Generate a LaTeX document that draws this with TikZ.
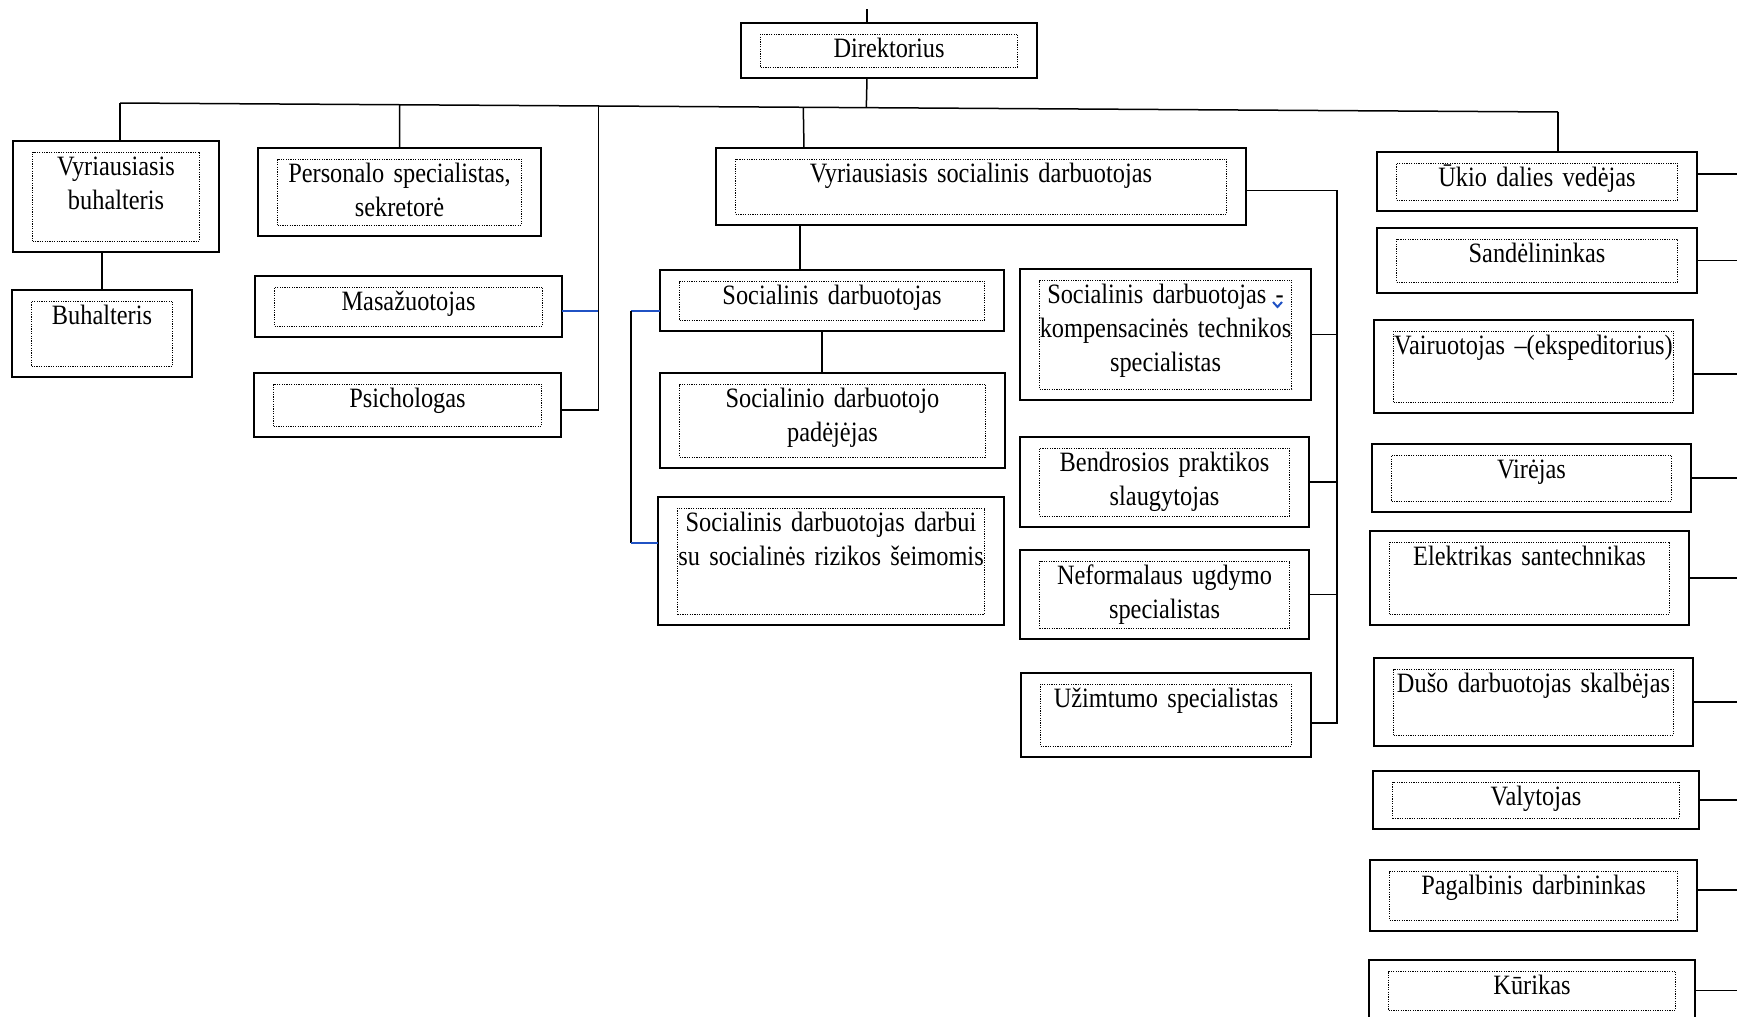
\documentclass[tikz,border=0pt]{standalone}
\usepackage{fontspec}
\setmainfont[FakeStretch=0.87]{Liberation Serif}
\usetikzlibrary{calc}
\definecolor{ryselinija}{RGB}{32,82,196}

\begin{document}
\begin{tikzpicture}[x=1pt, y=-1pt, line width=1.5pt,
        font=\fontsize{28}{34}\selectfont,
        pareigos/.style={draw, line width=1pt, dash pattern=on 1.2pt off 1.2pt, anchor=north,
            outer xsep=19.5pt, outer ysep=11pt, inner xsep=0pt, inner ysep=3pt,
            align=center, text height=20pt,
            append after command={\pgfextra{\draw[solid, line width=1.5pt]
                (\tikzlastnode.north west) rectangle (\tikzlastnode.south east);}}},
        melyna/.style={draw=ryselinija}]
        \path[use as bounding box, clip] (0,0) rectangle (1737,1017);
        % Vadovas
        \node[pareigos, text width=257, text depth=7] (dir) at (889,23) {Direktorius};
        % Kairiosios pareigos
        \node[pareigos, text width=167, text depth=63] (vbuh) at (116,141) {Vyriausiasis\\buhalteris};
        \node[pareigos, text width=141, text depth=39] (buh) at (102,290) {Buhalteris};
        \node[pareigos, text width=244, text depth=40] (pers) at (399.5,148) {Personalo specialistas,\\sekretorė};
        \node[pareigos, text width=268, text depth=13] (mas) at (408.5,276) {Masažuotojas};
        \node[pareigos, text width=268, text depth=16] (psi) at (407.5,373) {Psichologas};
        % Socialinis skyrius
        \node[pareigos, text width=491, text depth=29] (vsd) at (981,148) {Vyriausiasis socialinis darbuotojas};
        \node[pareigos, text width=305, text depth=13] (sd) at (832,270) {Socialinis darbuotojas};
        \node[pareigos, text width=306, text depth=47] (sdp) at (832.5,373) {Socialinio darbuotojo\\padėjėjas};
        \node[pareigos, text width=307, text depth=80] (sdrs) at (831,497) {Socialinis darbuotojas darbui\\su socialinės rizikos šeimomis};
        \node[pareigos, text width=252, text depth=83] (komp) at (1165.5,269)
            {Socialinis darbuotojas -\\kompensacinės technikos\\specialistas};
        \node[pareigos, text width=250, text depth=42] (bend) at (1164.5,437) {Bendrosios praktikos\\slaugytojas};
        \node[pareigos, text width=250, text depth=41] (nef) at (1164.5,550) {Neformalaus ugdymo\\specialistas};
        \node[pareigos, text width=251, text depth=36] (uz) at (1166,673) {Užimtumo specialistas};
        % Ukio dalis
        \node[pareigos, text width=281, text depth=11] (uk) at (1537,152) {Ūkio dalies vedėjas};
        \node[pareigos, text width=281, text depth=17] (san) at (1537,228) {Sandėlininkas};
        \node[pareigos, text width=280, text depth=45] (vair) at (1533.5,320) {Vairuotojas –(ekspeditorius)};
        \node[pareigos, text width=280, text depth=20] (vir) at (1531.5,444) {Virėjas};
        \node[pareigos, text width=280, text depth=46] (el) at (1529.5,531) {Elektrikas santechnikas};
        \node[pareigos, text width=280, text depth=40] (dus) at (1533.5,658) {Dušo darbuotojas skalbėjas};
        \node[pareigos, text width=287, text depth=10] (val) at (1536,771) {Valytojas};
        \node[pareigos, text width=288, text depth=23] (pag) at (1533.5,860) {Pagalbinis darbininkas};
        \node[pareigos, text width=287, text depth=13] (kur) at (1532,960) {Kūrikas};
        % Mazas melynas zenklas
        \draw[melyna, line width=2pt] (1273,302) -- (1277.5,307) -- (1282,302);
        % Pagalbiniai taskai
        \coordinate (top) at (867,9);
        \coordinate (busL) at (120,103);
        \coordinate (busR) at (1558,112);
        \coordinate (pv) at (599,0);
        \coordinate (lv) at (631,0);
        \coordinate (vsdv) at (804,0);
        \coordinate (mv) at (1337,0);
        \coordinate (redge) at (1737,0);
        % Pagrindine linija
        \draw (top) -- (top |- dir.north);
        \draw (top |- dir.south) -- ($(busL)!(top)!(busR)$);
        \draw (busL) -- (busR);
        \draw (busL) -- (busL |- vbuh.north);
        \draw (buh.north) -- (buh.north |- vbuh.south);
        \draw (pers.north) -- ($(busL)!(pers.north)!(busR)$);
        \draw (vsdv |- vsd.north) -- ($(busL)!(vsdv)!(busR)$);
        \draw (busR) -- (busR |- uk.north);
        % Masazuotojas ir psichologas
        \draw[melyna] ([yshift=-4.5]mas.east) -- ([yshift=-4.5]mas.east -| pv);
        \draw ([yshift=-5]psi.east) -| ($(busL)!(pv)!(busR)$);
        % Socialiniai darbuotojai
        \draw ([xshift=-32]sd.north) -- ([xshift=-32]sd.north |- vsd.south);
        \draw ([xshift=-10]sd.south) -- ([xshift=-10]sd.south |- sdp.north);
        \draw[melyna] ([yshift=-10.5]sd.west) -- ([yshift=-10.5]sd.west -| lv);
        \draw ([yshift=-10.5]sd.west -| lv) -- ([yshift=18]sdrs.west -| lv);
        \draw[melyna] ([yshift=18]sdrs.west -| lv) -- ([yshift=18]sdrs.west);
        \draw ([yshift=-4]vsd.east) -| ([yshift=-8]uz.east -| mv) -- ([yshift=-8]uz.east);
        \draw (komp.east) -- (komp.east -| mv);
        \draw (bend.east) -- (bend.east -| mv);
        \draw (nef.east) -- (nef.east -| mv);
        % Ukio dalies jungtys
        \draw ([yshift=7.5]uk.east) -- ([yshift=7.5]uk.east -| redge);
        \draw (san.east) -- (san.east -| redge);
        \draw ([yshift=-7.5]vair.east) -- ([yshift=-7.5]vair.east -| redge);
        \draw (vir.east) -- (vir.east -| redge);
        \draw (el.east) -- (el.east -| redge);
        \draw (dus.east) -- (dus.east -| redge);
        \draw (val.east) -- (val.east -| redge);
        \draw ([yshift=5.5]pag.east) -- ([yshift=5.5]pag.east -| redge);
        \draw (kur.east) -- (kur.east -| redge);
    \end{tikzpicture}
\end{document}
